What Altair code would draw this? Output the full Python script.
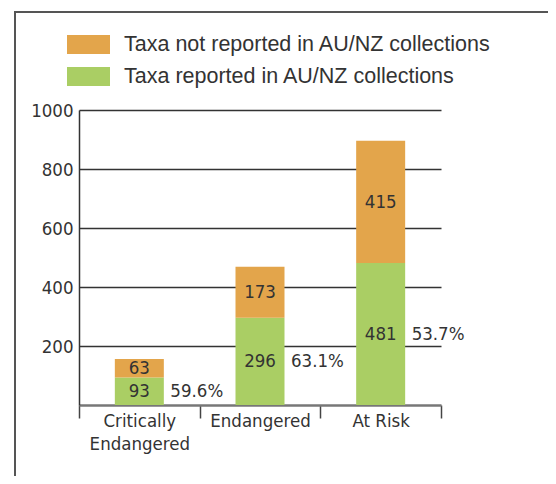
import altair as alt
import pandas as pd

categories = ["Critically Endangered", "Endangered", "At Risk"]
reported = [93, 296, 481]
not_reported = [63, 173, 415]
series = ["Taxa not reported in AU/NZ collections", "Taxa reported in AU/NZ collections"]
colors = ["#E3A54B", "#AACE64"]
y_ticks = [200, 400, 600, 800, 1000]

rows = []
pct_rows = []
for c, r, n in zip(categories, reported, not_reported):
    rows.append({"category": c, "series": series[1], "y0": 0, "y1": r, "mid": r / 2, "value": r})
    rows.append({"category": c, "series": series[0], "y0": r, "y1": r + n, "mid": r + n / 2, "value": n})
    pct_rows.append({"category": c, "mid": r / 2, "pct": f"{100 * r / (r + n):.1f}%"})
df = pd.DataFrame(rows)
pct_df = pd.DataFrame(pct_rows)

NARROW = "'DejaVu Sans Condensed', sans-serif"
REG = "'Liberation Sans', Arial, sans-serif"
TXT = "#333333"
FS = 18.5

x_enc = alt.X(
    "category:N",
    sort=categories,
    scale=alt.Scale(paddingInner=0, paddingOuter=0),
    axis=alt.Axis(
        title=None, labelAngle=0, tickBand="extent", tickSize=13, tickWidth=1.5,
        tickColor="#444444", domainColor="#777777", domainWidth=2.5,
        labelFont=NARROW, labelFontSize=FS, labelColor=TXT, labelPadding=-7,
        labelLineHeight=23,
        labelExpr="datum.label == 'Critically Endangered' ? ['Critically', 'Endangered'] : datum.label",
    ),
)
y_scale = alt.Scale(domain=[0, 1000], nice=False)

bars = alt.Chart(df).mark_bar(size=49).encode(
    x=x_enc,
    y=alt.Y("y0:Q", scale=y_scale, axis=alt.Axis(
        title=None, values=y_ticks, format="d", ticks=False, grid=True, gridColor="#333333",
        gridWidth=1.3, domainColor="#333333", domainWidth=1.5,
        labelFont=NARROW, labelFontSize=FS, labelColor=TXT, labelPadding=6,
    )),
    y2="y1:Q",
    color=alt.Color("series:N", scale=alt.Scale(domain=series, range=colors), legend=alt.Legend(
        orient="none", legendX=-12, legendY=-87, title=None,
        symbolType="M-1,-0.44L1,-0.44L1,0.44L-1,0.44Z", symbolSize=1849,
        symbolStrokeWidth=0, symbolOpacity=1,
        labelFont=REG, labelFontSize=21.5, labelColor=TXT, labelOffset=14,
        labelLimit=0, rowPadding=-16, padding=0,
    )),
)

vals = alt.Chart(df).mark_text(font=NARROW, fontSize=FS, color=TXT, baseline="middle").encode(
    x=alt.X("category:N", sort=categories),
    y=alt.Y("mid:Q"),
    text="value:Q",
)

pcts = alt.Chart(pct_df).mark_text(font=NARROW, fontSize=FS, color=TXT, baseline="middle",
                                   align="left", dx=31).encode(
    x=alt.X("category:N", sort=categories),
    y=alt.Y("mid:Q"),
    text="pct:N",
)

frame_left = alt.Chart(alt.Data(values=[{}])).mark_rule(color="#555555", strokeWidth=2).encode(
    x=alt.value(-64), y=alt.value(-98), y2=alt.value(400))
frame_top = alt.Chart(alt.Data(values=[{}])).mark_rule(color="#555555", strokeWidth=2).encode(
    x=alt.value(-65), x2=alt.value(600), y=alt.value(-98))

chart = alt.layer(frame_left, frame_top, bars, vals, pcts).properties(
    width=362, height=295,
    autosize=alt.AutoSizeParams(type="none"),
    padding={"left": 71, "top": 102, "right": 107, "bottom": 71},
).configure_view(stroke=None)

chart.save("out.html", embed_options={"renderer": "svg", "actions": False})
